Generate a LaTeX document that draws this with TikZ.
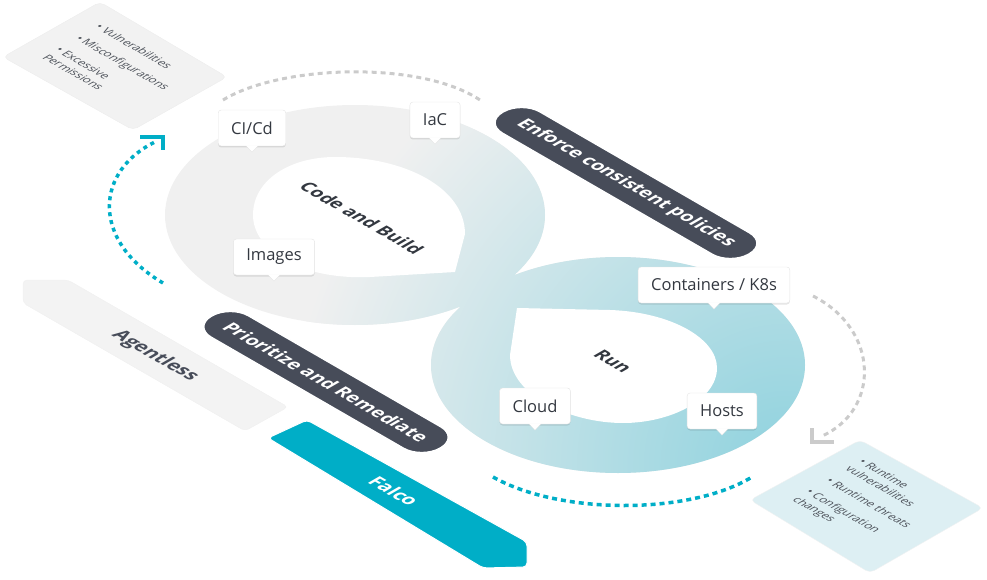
\documentclass[tikz,border=0pt]{standalone}
\usepackage{fontspec}
\setmainfont{Open Sans}
\usetikzlibrary{shadows}
\definecolor{eightgray}{HTML}{F0F0F0}
\definecolor{eightblue}{HTML}{8FD2DE}
\definecolor{pilldark}{HTML}{474C59}
\definecolor{falcoblue}{HTML}{00AEC7}
\definecolor{agentgray}{HTML}{F3F3F3}
\definecolor{cardgray}{HTML}{F2F2F2}
\definecolor{cardblue}{HTML}{DDEFF3}
\definecolor{cardtext}{HTML}{4D525A}
\definecolor{dotgray}{HTML}{CBCBCB}
\definecolor{labeltext}{HTML}{333840}
\tikzset{every shadow/.style={fill=black,opacity=0.10,shadow xshift=0pt,shadow yshift=-1.5pt}}
\tikzset{iso/.style={rotate=-30,xslant=0.577,yscale=0.866}}
\tikzset{callout/.style={fill=white,draw=black!10,rounded corners=3pt,drop shadow,minimum height=36pt,inner xsep=13pt,font=\fontsize{16.5}{19}\selectfont,text=labeltext}}
\tikzset{pill/.style={iso,fill=pilldark,draw=white,line width=1.5pt,rounded corners=21pt,minimum height=43pt,text=white,font=\fontsize{18.5}{21}\selectfont\bfseries}}
\tikzset{dotline/.style={line width=3pt,dash pattern=on 5pt off 4pt}}
\tikzset{bullets/.style={iso,anchor=north west,align=left,inner sep=0pt,text=cardtext,font=\fontsize{11.5}{15}\selectfont}}

\begin{document}
\begin{tikzpicture}[x=1pt,y=-1pt]
\useasboundingbox (0,0) rectangle (987,580);
%
{
\begin{scope}
\clip (355,215) ellipse [x radius=190, y radius=110] (618,365) ellipse [x radius=187, y radius=108];
\fill[eightgray] (150,90) rectangle (820,490);
\shade[inner color=eightblue, outer color=eightgray] (785,465) circle [radius=500];
\end{scope}
\fill[white] (455,272) -- (370,277) .. controls (300,280) and (253,250) .. (253,215) .. controls (253,180) and (290,157) .. (335,157) .. controls (405,157) and (465,188) .. (465,234) -- cycle;
\fill[white] (517,308) -- (610,310) .. controls (670,312) and (717,338) .. (717,368) .. controls (717,400) and (670,423) .. (623,423) .. controls (570,423) and (510,395) .. (510,355) -- cycle;
\node[iso,text=labeltext,font=\fontsize{18}{21}\selectfont\bfseries] (build) at (362,218) {Code and Build};
\node[iso,text=labeltext,font=\fontsize{18}{21}\selectfont\bfseries] (run) at (613,361) {Run};
}
%
{
\coordinate (topA) at (223,100);
\coordinate (topB) at (480,100);
\draw[dotline,dotgray] (topA) .. controls (280,65) and (420,60) .. (topB);
\coordinate (runA) at (813,296);
\coordinate (runB) at (822,436);
\coordinate (runtip) at (812,442);
\draw[dotline,dotgray] (runA) .. controls (880,330) and (880,410) .. (runB);
\draw[dotgray,line width=3.5pt] ([yshift=14pt]runtip) -- (runtip) -- ([xshift=22pt]runtip);
\coordinate (buildA) at (163,283);
\coordinate (buildB) at (157,141);
\coordinate (buildtip) at (163,137);
\draw[dotline,falcoblue,line width=3.5pt,dash pattern=on 4pt off 4pt] (buildA) .. controls (90,240) and (95,170) .. (buildB);
\draw[falcoblue,line width=3.5pt] ([xshift=-23pt]buildtip) -- (buildtip) -- ([yshift=-13pt]buildtip);
\coordinate (falcoA) at (493,477);
\coordinate (falcoB) at (752,477);
\draw[dotline,falcoblue,line width=3.5pt,dash pattern=on 5pt off 4pt] (falcoA) .. controls (560,515) and (690,515) .. (falcoB);
}
%
{
\filldraw[fill=cardgray,draw=black!7,rounded corners=5pt] (3,57) -- (100,2) -- (227,77) -- (133,130) -- cycle;
\node[bullets] (risks) at (102,23) {• Vulnerabilities\\[8pt]• Misconfigurations\\[8pt]• Excessive\\Permissions};
\filldraw[fill=cardblue,draw=black!5,rounded corners=5pt] (750,500) -- (860,440) -- (983,508) -- (870,573) -- cycle;
\node[bullets] (threats) at (865,458) {• Runtime\\vulnerabilities\\[8pt]• Runtime threats\\[8pt]• Configuration\\changes};
}
%
{
\node[pill,minimum width=284pt] (enforce) at (626,183) {Enforce consistent policies};
\node[pill,minimum width=264pt] (prioritize) at (326,382) {Prioritize and Remediate};
\filldraw[fill=agentgray,draw=black!6,rounded corners=4pt] (23,303) -- (23,280) -- (68,280) -- (288,407) -- (245,431) -- cycle;
\node[iso,text=pilldark,font=\fontsize{19}{22}\selectfont\bfseries] (agentless) at (155,356) {Agentless};
\filldraw[fill=falcoblue,draw=white,line width=1pt,rounded corners=4pt] (268,438) -- (307,420) -- (527,542) -- (527,567) -- (483,568) -- cycle;
\node[iso,text=white,font=\fontsize{19}{22}\selectfont\bfseries] (falco) at (394,491) {Falco};
}
%
{
\node[callout] (cicd) at (252,128) {CI/Cd};
\node[callout] (iac) at (435,120) {IaC};
\node[callout] (images) at (274,257) {Images};
\node[callout] (k8s) at (714,285) {Containers / K8s};
\node[callout] (cloud) at (535,406) {Cloud};
\node[callout] (hosts) at (722,411) {Hosts};
\foreach \lbl in {cicd,iac,images,k8s,cloud,hosts}
  {\fill[white] ([xshift=-6pt,yshift=0.8pt]\lbl.south) -- ([xshift=6pt,yshift=0.8pt]\lbl.south) -- ([yshift=-6pt]\lbl.south) -- cycle;
   \draw[black!10] ([xshift=-6pt]\lbl.south) -- ([yshift=-6pt]\lbl.south) -- ([xshift=6pt]\lbl.south);}
}
\end{tikzpicture}
\end{document}
